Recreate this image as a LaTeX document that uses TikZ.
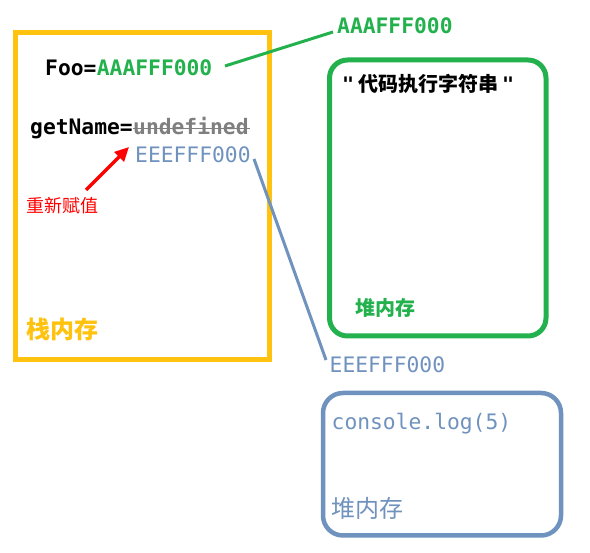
\documentclass[tikz,border=0pt]{standalone}
\usepackage{fontspec}
\setmonofont{DejaVu Sans Mono}
\newfontfamily\cjk{Noto Sans CJK SC}
\usetikzlibrary{arrows.meta}
\definecolor{cyellow}{HTML}{FFC20E}
\definecolor{cgreen}{HTML}{22B14C}
\definecolor{cblue}{HTML}{7092BE}
\definecolor{cred}{HTML}{FF0000}
\definecolor{cgray}{HTML}{7F7F7F}
\begin{document}
\begin{tikzpicture}[x=1pt,y=-1pt,
  txt/.style={inner sep=0pt,anchor=base west},
  mono/.style={txt,font=\ttfamily\fontsize{21.3}{21}\selectfont},
  monob/.style={txt,font=\ttfamily\bfseries\fontsize{21.3}{21}\selectfont},
  box/.style={line width=5pt}]
\useasboundingbox[fill=white] (0,0) rectangle (590,553);
% boxes
\draw[box,cyellow] (15.5,32.5) rectangle (269.5,359.5);
\draw[box,cgreen,rounded corners=18pt] (329.5,60) rectangle (546,336);
\draw[line width=4.5pt,cblue,rounded corners=20pt] (323,393) rectangle (561,535.5);
% stack texts
\node[monob] (foo) at (45,76) {Foo=};
\node[monob,text=cgreen,anchor=base west] (fooval) at (foo.base east) {AAAFFF000};
\node[monob] (gn) at (30,135) {getName=};
\node[monob,text=cgray,anchor=base west] (undef) at (gn.base east) {undefined};
\draw[cgray,line width=1.6pt] ([yshift=6.5pt]undef.base west) -- ([yshift=6.5pt,xshift=1pt]undef.base east);
\node[mono,text=cblue] (newval) at (135,163) {EEEFFF000};
\node[txt,font=\cjk\fontsize{18}{18}\selectfont,text=cred] (reassign) at (26.5,213) {重新赋值};
\node[txt,font=\cjk\bfseries\fontsize{24}{24}\selectfont,text=cyellow] (stack) at (26.5,339) {栈内存};
% heap 1
\node[monob,text=cgreen] (topA) at (337,34) {AAAFFF000};
\node[txt,font=\cjk\bfseries\fontsize{20}{20}\selectfont] (str) at (342,92) {{\ttfamily\bfseries"}\hspace{4pt}代码执行字符串\hspace{4pt}{\ttfamily\bfseries"}};
\node[txt,font=\cjk\bfseries\fontsize{20}{20}\selectfont,text=cgreen] (heap1) at (355.5,316) {堆内存};
% heap 2
\node[mono,text=cblue] (botE) at (329.5,373) {EEEFFF000};
\node[mono,text=cblue] (con) at (331.5,430) {console.log(5)};
\node[txt,font=\cjk\fontsize{24}{24}\selectfont,text=cblue] (heap2) at (331.5,518) {堆内存};
% connectors
\coordinate (g1) at (225,66);
\coordinate (g2) at (333,32);
\draw[cgreen,line width=3pt] (g1) -- (g2);
\coordinate (b1) at (254,159);
\coordinate (b2) at (326,360);
\draw[cblue,line width=3pt] (b1) -- (b2);
\coordinate (r1) at (86,190);
\coordinate (r2) at (129,147);
\draw[cred,line width=3.5pt,-{Triangle[length=14pt,width=13pt]}] (r1) -- (r2);
\end{tikzpicture}
\end{document}
